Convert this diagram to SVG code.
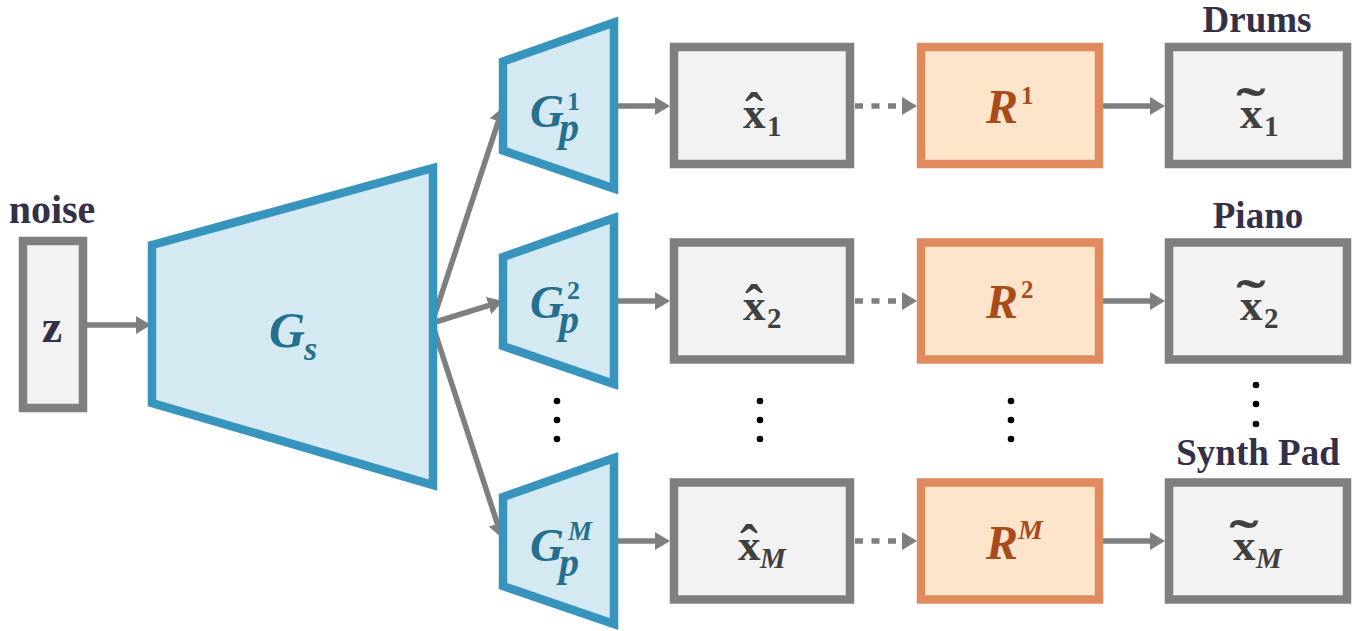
<svg xmlns="http://www.w3.org/2000/svg" width="1360" height="631" viewBox="0 0 1360 631">
<style>
.t{font-family:"Liberation Serif","Times New Roman",serif;font-weight:bold}
.bi{font-family:"Liberation Serif","Times New Roman",serif;font-weight:bold;font-style:italic}
.lab{fill:#333047;font-size:37px;text-anchor:middle}
.gbox{fill:#f2f2f2;stroke:#7f7f7f;stroke-width:8.5}
.rbox{fill:#fde5cc;stroke:#e08b5d;stroke-width:8.5}
.trap{fill:#d4e9f2;stroke:#3795bd;stroke-width:8.5;stroke-linejoin:miter}
.gt{fill:#24708e}
.rt{fill:#a84c1c}
.xt{fill:#404040}
.acc{text-anchor:middle}
.ar{stroke:#7f7f7f;stroke-width:5.5;fill:none;marker-end:url(#ah)}
.dot{stroke-dasharray:8 8.5}
.d{fill:#000}
</style>
<defs>
<marker id="ah" viewBox="0 0 15 18" refX="3" refY="9" markerWidth="15" markerHeight="18" markerUnits="userSpaceOnUse" orient="auto">
<path d="M0,0 L15,9 L0,18 z" fill="#7f7f7f"/>
</marker>
</defs>

<g id="connectors">
<path class="ar" d="M87,325 L139,325"/>
<path class="ar" d="M432,323 L499.3,118.4"/>
<path class="ar" d="M432,323 L491.5,304.6"/>
<path class="ar" d="M432,323 L498.3,526.6"/>
<path class="ar" d="M618,106 L658,106"/>
<path class="ar" d="M618,301 L658,301"/>
<path class="ar" d="M618,541 L658,541"/>
<path class="ar dot" d="M855,106 L905,106"/>
<path class="ar dot" d="M855,301 L905,301"/>
<path class="ar dot" d="M855,541 L905,541"/>
<path class="ar" d="M1103,106 L1153,106"/>
<path class="ar" d="M1103,301 L1153,301"/>
<path class="ar" d="M1103,541 L1153,541"/>
</g>

<g id="noise">
<text class="t lab" x="52" y="223" style="font-size:40px">noise</text>
<rect class="gbox" x="23" y="241" width="60" height="167"/>
<text class="t" x="52" y="342" font-size="46" fill="#333047" text-anchor="middle">z</text>
</g>

<g id="Gs">
<polygon class="trap" points="152,245 433,168 433,485 152,403"/>
<text class="bi gt" x="269" y="347" font-size="50">G</text>
<text class="bi gt" x="304" y="360" font-size="34">s</text>
</g>

<g id="Gp1">
<polygon class="trap" points="503,61.5 614,22.5 614,188.5 503,150.5"/>
<text class="bi gt" x="530" y="127" font-size="47">G</text>
<text class="t gt" x="567" y="110" font-size="26">1</text>
<text class="bi gt" x="559" y="141" font-size="40">p</text>
</g>
<g id="Gp2">
<polygon class="trap" points="503,257 614,218 614,384 503,346"/>
<text class="bi gt" x="530" y="318" font-size="47">G</text>
<text class="t gt" x="567" y="299" font-size="26">2</text>
<text class="bi gt" x="559" y="333" font-size="40">p</text>
</g>
<g id="GpM">
<polygon class="trap" points="503,497 614,458 614,624 503,586"/>
<text class="bi gt" x="530" y="561" font-size="47">G</text>
<text class="bi gt" x="568" y="540" font-size="27">M</text>
<text class="bi gt" x="559" y="576" font-size="40">p</text>
</g>

<g id="xhat1">
<rect class="gbox" x="674" y="47" width="176" height="117"/>
<text class="t xt acc" x="754" y="131" font-size="54">ˆ</text>
<text class="t xt" x="743" y="128" font-size="45">x</text>
<text class="t xt" x="767" y="136" font-size="29">1</text>
</g>
<g id="xhat2">
<rect class="gbox" x="674" y="242.5" width="176" height="117"/>
<text class="t xt acc" x="754" y="323" font-size="54">ˆ</text>
<text class="t xt" x="743" y="320" font-size="45">x</text>
<text class="t xt" x="767" y="328" font-size="29">2</text>
</g>
<g id="xhatM">
<rect class="gbox" x="674" y="482.5" width="176" height="117"/>
<text class="t xt acc" x="749" y="563" font-size="54">ˆ</text>
<text class="t xt" x="738" y="560" font-size="45">x</text>
<text class="bi xt" x="760" y="568" font-size="29">M</text>
</g>

<g id="R1">
<rect class="rbox" x="921" y="47" width="178" height="117"/>
<text class="bi rt" x="986" y="123" font-size="48">R</text>
<text class="t rt" x="1021" y="104" font-size="25">1</text>
</g>
<g id="R2">
<rect class="rbox" x="921" y="242.5" width="178" height="117"/>
<text class="bi rt" x="986" y="318" font-size="48">R</text>
<text class="t rt" x="1021" y="298" font-size="25">2</text>
</g>
<g id="RM">
<rect class="rbox" x="921" y="482.5" width="178" height="117"/>
<text class="bi rt" x="986" y="559" font-size="48">R</text>
<text class="bi rt" x="1018" y="539" font-size="28">M</text>
</g>

<g id="xt1">
<text class="t lab" x="1257" y="32">Drums</text>
<rect class="gbox" x="1169" y="47" width="178" height="117"/>
<text class="t xt acc" x="1251" y="126" font-size="54" transform="translate(1251,0) scale(1.6,1) translate(-1251,0)">˜</text>
<text class="t xt" x="1240" y="128" font-size="45">x</text>
<text class="t xt" x="1264" y="136" font-size="29">1</text>
</g>
<g id="xt2">
<text class="t lab" x="1258" y="228">Piano</text>
<rect class="gbox" x="1169" y="242.5" width="178" height="117"/>
<text class="t xt acc" x="1251" y="318" font-size="54" transform="translate(1251,0) scale(1.6,1) translate(-1251,0)">˜</text>
<text class="t xt" x="1240" y="320" font-size="45">x</text>
<text class="t xt" x="1264" y="328" font-size="29">2</text>
</g>
<g id="xtM">
<text class="t lab" x="1258" y="465">Synth Pad</text>
<rect class="gbox" x="1169" y="482.5" width="178" height="117"/>
<text class="t xt acc" x="1244" y="558" font-size="54" transform="translate(1244,0) scale(1.6,1) translate(-1244,0)">˜</text>
<text class="t xt" x="1233" y="560" font-size="45">x</text>
<text class="bi xt" x="1256" y="568" font-size="29">M</text>
</g>

<g id="dots">
<circle class="d" cx="557" cy="401" r="3.3"/><circle class="d" cx="557" cy="420" r="3.3"/><circle class="d" cx="557" cy="439" r="3.3"/>
<circle class="d" cx="760" cy="401" r="3.3"/><circle class="d" cx="760" cy="420" r="3.3"/><circle class="d" cx="760" cy="439" r="3.3"/>
<circle class="d" cx="1011" cy="401" r="3.3"/><circle class="d" cx="1011" cy="420" r="3.3"/><circle class="d" cx="1011" cy="439" r="3.3"/>
<circle class="d" cx="1256" cy="385" r="3.3"/><circle class="d" cx="1256" cy="404" r="3.3"/><circle class="d" cx="1256" cy="424" r="3.3"/>
</g>
</svg>
